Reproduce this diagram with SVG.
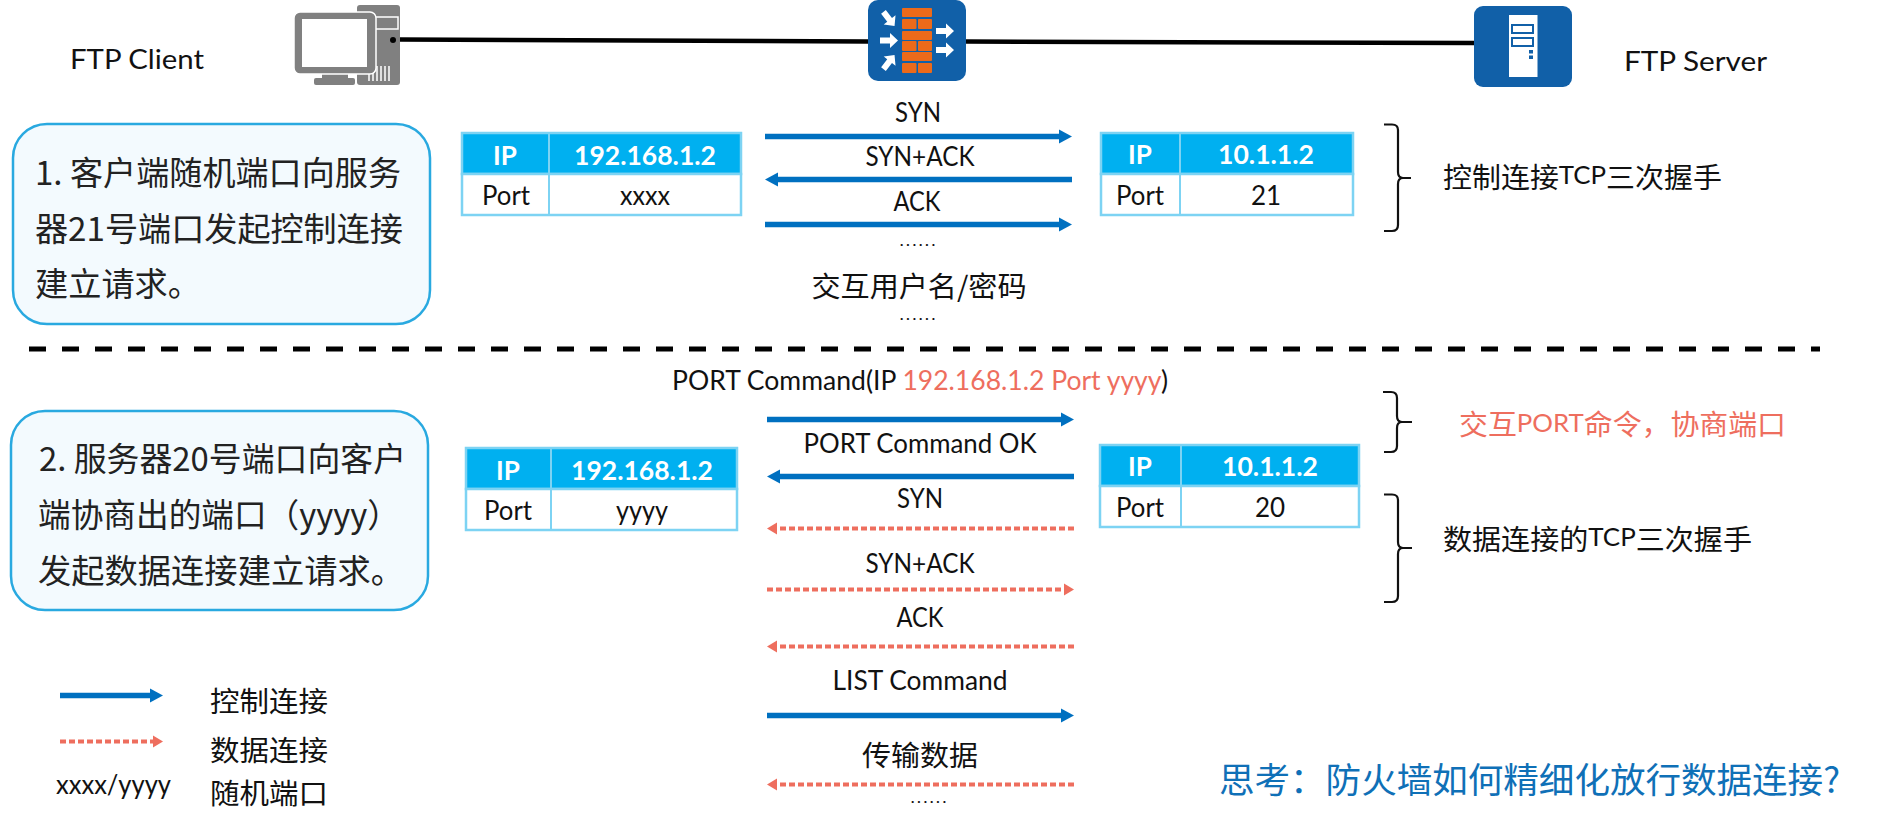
<svg xmlns="http://www.w3.org/2000/svg" width="1880" height="828" viewBox="0 0 1880 828">
<style>
text{font-family:"Lato","Noto Sans CJK SC",sans-serif;fill:#111;font-size:26px;}
.cj{font-family:"Noto Sans CJK SC","Lato",sans-serif;font-size:28px;}
.box{font-family:"Noto Sans CJK SC","Lato",sans-serif;font-size:33px;fill:#222;}
.c{text-anchor:middle;}
.red{fill:#EE6E5E;}
.h{fill:#fff;font-weight:bold;font-size:26px;}
.dots{font-size:14px;font-weight:bold;letter-spacing:3px;}
.tb{fill:#fff;stroke:#7DD3F3;stroke-width:2.5;}
.th{fill:#00B0F0;stroke:#7DD3F3;stroke-width:2.5;}
.ctl{stroke:#0070C0;stroke-width:5.5;fill:none;marker-end:url(#ah);}
.dat{stroke:#EE6E5E;stroke-width:4;stroke-dasharray:6 3;fill:none;marker-end:url(#ar);}
.brace{fill:none;stroke:#111;stroke-width:2.2;}
.note{fill:#F3FAFE;stroke:#29A9E0;stroke-width:2.5;}
.brick{fill:#EC6A1A;}
.wa{fill:#fff;}
</style>
<defs>
<marker id="ah" markerUnits="userSpaceOnUse" markerWidth="16" markerHeight="16" refX="0" refY="8" orient="auto"><path d="M0,1 L13,8 L0,15 z" fill="#0070C0"/></marker>
<marker id="ar" markerUnits="userSpaceOnUse" markerWidth="14" markerHeight="14" refX="0" refY="7" orient="auto"><path d="M0,1 L10,7 L0,13 z" fill="#EE6E5E"/></marker>
<path id="wa" d="M-9,-3 H1 V-7.5 L9,0 L1,7.5 V3 H-9 z"/>
</defs>
<rect width="1880" height="828" fill="#fff"/>

<g id="connectors">
<path d="M399,39.5 L868,41.5" stroke="#000" stroke-width="4.5" fill="none"/>
<path d="M966,41.5 L1474,43" stroke="#000" stroke-width="4.5" fill="none"/>
<line class="ctl" x1="765" y1="136.5" x2="1059" y2="136.5"/>
<line class="ctl" x1="1072" y1="179.5" x2="778" y2="179.5"/>
<line class="ctl" x1="765" y1="224.5" x2="1059" y2="224.5"/>
<line class="ctl" x1="767" y1="419.5" x2="1061" y2="419.5"/>
<line class="ctl" x1="1074" y1="476.5" x2="780" y2="476.5"/>
<line class="dat" x1="1074" y1="528.5" x2="777" y2="528.5"/>
<line class="dat" x1="767" y1="589.5" x2="1064" y2="589.5"/>
<line class="dat" x1="1074" y1="646.5" x2="777" y2="646.5"/>
<line class="ctl" x1="767" y1="715.5" x2="1061" y2="715.5"/>
<line class="dat" x1="1074" y1="784.5" x2="777" y2="784.5"/>
<line class="ctl" x1="60" y1="695.5" x2="150" y2="695.5"/>
<line class="dat" x1="60" y1="741.5" x2="153" y2="741.5"/>
</g>

<g id="divider"><line x1="29" y1="349" x2="1820" y2="349" stroke="#000" stroke-width="5" stroke-dasharray="17 16"/></g>

<g id="ftp-client-icon">
<rect x="357" y="5" width="43" height="80" rx="3" fill="#808080"/>
<rect x="375" y="17" width="23" height="12" fill="#808080" stroke="#fff" stroke-width="1.5"/>
<path d="M369,66 V81 M373,66 V81 M377,66 V81 M381,66 V81 M385,66 V81 M389,66 V81" stroke="#fff" stroke-width="1.5"/>
<circle cx="393" cy="40" r="3" fill="#000"/>
<rect x="374" y="37" width="2" height="6" fill="#000"/>
<rect x="314" y="78" width="41" height="7" rx="2" fill="#808080"/>
<rect x="322" y="73" width="26" height="5" fill="#808080"/>
<rect x="294" y="12" width="82" height="62" rx="6" fill="#808080" stroke="#fff" stroke-width="1.5"/>
<rect x="302" y="19" width="65" height="48" fill="#fff"/>
</g>
<g id="ftp-client-label"><text x="70" y="69" textLength="134" lengthAdjust="spacingAndGlyphs">FTP Client</text></g>

<g id="firewall-icon">
<rect x="868" y="0" width="98" height="81" rx="10" fill="#1160A8"/>
<rect class="brick" x="902" y="8" width="30" height="9" rx="1"/>
<rect class="brick" x="902" y="19" width="14.5" height="10" rx="1"/><rect class="brick" x="918" y="19" width="14" height="10" rx="1"/>
<rect class="brick" x="902" y="31" width="30" height="9" rx="1"/>
<rect class="brick" x="902" y="41" width="14.5" height="10" rx="1"/><rect class="brick" x="918" y="41" width="14" height="10" rx="1"/>
<rect class="brick" x="902" y="52" width="30" height="9" rx="1"/>
<rect class="brick" x="902" y="63" width="14.5" height="10" rx="1"/><rect class="brick" x="918" y="63" width="14" height="10" rx="1"/>
<use href="#wa" class="wa" transform="translate(889,19) rotate(52)"/>
<use href="#wa" class="wa" transform="translate(889,40.5)"/>
<use href="#wa" class="wa" transform="translate(889,62) rotate(-52)"/>
<use href="#wa" class="wa" transform="translate(945,31)"/>
<use href="#wa" class="wa" transform="translate(945,50)"/>
</g>

<g id="ftp-server-icon">
<rect x="1474" y="6" width="98" height="81" rx="9" fill="#1160A8"/>
<rect x="1509" y="15" width="28.5" height="62" fill="#fff"/>
<rect x="1512" y="25" width="21" height="8" fill="#fff" stroke="#1160A8" stroke-width="2"/>
<rect x="1512" y="38" width="21" height="8" fill="#fff" stroke="#1160A8" stroke-width="2"/>
<rect x="1529" y="50" width="4" height="3.5" fill="#1160A8"/>
<rect x="1529" y="55.5" width="4" height="3.5" fill="#1160A8"/>
</g>
<g id="ftp-server-label"><text x="1624" y="71" textLength="143" lengthAdjust="spacingAndGlyphs">FTP Server</text></g>

<g id="note-1">
<rect class="note" x="13" y="124" width="417" height="200" rx="34"/>
<text class="box" x="35" y="185" textLength="366" lengthAdjust="spacingAndGlyphs">1. 客户端随机端口向服务</text>
<text class="box" x="35" y="241" textLength="368" lengthAdjust="spacingAndGlyphs">器21号端口发起控制连接</text>
<text class="box" x="35" y="296" textLength="166" lengthAdjust="spacingAndGlyphs">建立请求。</text>
</g>

<g id="table-client-1">
<rect class="th" x="462" y="133" width="279" height="41"/><line x1="549" y1="133" x2="549" y2="174" stroke="#7DD3F3" stroke-width="2"/>
<rect class="tb" x="462" y="174" width="279" height="41"/><line x1="549" y1="174" x2="549" y2="215" stroke="#7DD3F3" stroke-width="2"/>
<text class="h c" x="505" y="165">IP</text>
<text class="h c" x="645" y="165" textLength="142" lengthAdjust="spacingAndGlyphs">192.168.1.2</text>
<text class="c" x="506" y="205" textLength="48" lengthAdjust="spacingAndGlyphs">Port</text>
<text class="c" x="645" y="205" textLength="50" lengthAdjust="spacingAndGlyphs">xxxx</text>
</g>
<g id="table-server-1">
<rect class="th" x="1101" y="133" width="252" height="41"/><line x1="1180" y1="133" x2="1180" y2="174" stroke="#7DD3F3" stroke-width="2"/>
<rect class="tb" x="1101" y="174" width="252" height="41"/><line x1="1180" y1="174" x2="1180" y2="215" stroke="#7DD3F3" stroke-width="2"/>
<text class="h c" x="1140" y="164">IP</text>
<text class="h c" x="1266" y="164" textLength="96" lengthAdjust="spacingAndGlyphs">10.1.1.2</text>
<text class="c" x="1140" y="205" textLength="48" lengthAdjust="spacingAndGlyphs">Port</text>
<text class="c" x="1266" y="205">21</text>
</g>
<g id="table-client-2">
<rect class="th" x="466" y="448" width="271" height="41"/><line x1="551" y1="448" x2="551" y2="489" stroke="#7DD3F3" stroke-width="2"/>
<rect class="tb" x="466" y="489" width="271" height="41"/><line x1="551" y1="489" x2="551" y2="530" stroke="#7DD3F3" stroke-width="2"/>
<text class="h c" x="508" y="480">IP</text>
<text class="h c" x="642" y="480" textLength="142" lengthAdjust="spacingAndGlyphs">192.168.1.2</text>
<text class="c" x="508" y="520" textLength="48" lengthAdjust="spacingAndGlyphs">Port</text>
<text class="c" x="642" y="520" textLength="52" lengthAdjust="spacingAndGlyphs">yyyy</text>
</g>
<g id="table-server-2">
<rect class="th" x="1100" y="445" width="259" height="41"/><line x1="1181" y1="445" x2="1181" y2="486" stroke="#7DD3F3" stroke-width="2"/>
<rect class="tb" x="1100" y="486" width="259" height="41"/><line x1="1181" y1="486" x2="1181" y2="527" stroke="#7DD3F3" stroke-width="2"/>
<text class="h c" x="1140" y="476">IP</text>
<text class="h c" x="1270" y="476" textLength="96" lengthAdjust="spacingAndGlyphs">10.1.1.2</text>
<text class="c" x="1140" y="517" textLength="48" lengthAdjust="spacingAndGlyphs">Port</text>
<text class="c" x="1270" y="517">20</text>
</g>

<g id="labels-control">
<text class="c" x="918" y="122" textLength="46" lengthAdjust="spacingAndGlyphs">SYN</text>
<text class="c" x="920" y="166" textLength="109" lengthAdjust="spacingAndGlyphs">SYN+ACK</text>
<text class="c" x="917" y="211" textLength="47" lengthAdjust="spacingAndGlyphs">ACK</text>
<text class="c dots" x="919" y="246">......</text>
<text class="cj c" x="919" y="297" textLength="215" lengthAdjust="spacingAndGlyphs">交互用户名/密码</text>
<text class="c dots" x="919" y="320">......</text>
</g>

<g id="note-2">
<rect class="note" x="11" y="411" width="417" height="199" rx="34"/>
<text class="box" x="39" y="471" textLength="367" lengthAdjust="spacingAndGlyphs">2. 服务器20号端口向客户</text>
<text class="box" x="38" y="527" textLength="362" lengthAdjust="spacingAndGlyphs">端协商出的端口（yyyy）</text>
<text class="box" x="38" y="583" textLength="366" lengthAdjust="spacingAndGlyphs">发起数据连接建立请求。</text>
</g>

<g id="labels-data">
<text x="672" y="390" textLength="496" lengthAdjust="spacingAndGlyphs">PORT Command(IP <tspan class="red">192.168.1.2 Port yyyy</tspan>)</text>
<text class="c" x="920" y="453" textLength="233" lengthAdjust="spacingAndGlyphs">PORT Command OK</text>
<text class="c" x="920" y="508" textLength="46" lengthAdjust="spacingAndGlyphs">SYN</text>
<text class="c" x="920" y="573" textLength="109" lengthAdjust="spacingAndGlyphs">SYN+ACK</text>
<text class="c" x="920" y="627" textLength="47" lengthAdjust="spacingAndGlyphs">ACK</text>
<text class="c" x="920" y="690" textLength="175" lengthAdjust="spacingAndGlyphs">LIST Command</text>
<text class="cj c" x="920" y="766" textLength="116" lengthAdjust="spacingAndGlyphs">传输数据</text>
<text class="c dots" x="930" y="803">......</text>
</g>

<g id="brace-1"><path class="brace" d="M1384,124.5 H1392 Q1398,124.5 1398,130 V172 Q1398,178 1403,178 H1411 M1403,178 Q1398,178 1398,184 V225 Q1398,231 1392,231 H1384"/></g>
<g id="brace-2"><path class="brace" d="M1383,392 H1391 Q1397,392 1397,398 V416 Q1397,422 1402,422 H1412 M1402,422 Q1397,422 1397,428 V446 Q1397,452 1391,452 H1384"/></g>
<g id="brace-3"><path class="brace" d="M1384,494.5 H1392 Q1398,494.5 1398,500 V542 Q1398,548 1403,548 H1412 M1403,548 Q1398,548 1398,554 V596 Q1398,602 1392,602 H1384"/></g>

<g id="note-labels">
<text class="cj" x="1443" y="188" textLength="279" lengthAdjust="spacingAndGlyphs">控制连接<tspan style="font-size:25px;font-family:Lato" dy="-4">TCP</tspan><tspan dy="4">三次握手</tspan></text>
<text class="cj red" x="1459" y="435" textLength="327" lengthAdjust="spacingAndGlyphs">交互<tspan style="font-size:25px;font-family:Lato" dy="-3">PORT</tspan><tspan dy="3">命令，协商端口</tspan></text>
<text class="cj" x="1443" y="550" textLength="309" lengthAdjust="spacingAndGlyphs">数据连接的<tspan style="font-size:25px;font-family:Lato" dy="-4">TCP</tspan><tspan dy="4">三次握手</tspan></text>
<text class="cj" x="1219" y="793" textLength="621" lengthAdjust="spacingAndGlyphs" style="font-size:35px;fill:#0F70B7">思考：防火墙如何精细化放行数据连接?</text>
</g>

<g id="legend">
<text class="cj" x="210" y="712" textLength="118" lengthAdjust="spacingAndGlyphs">控制连接</text>
<text class="cj" x="210" y="761" textLength="118" lengthAdjust="spacingAndGlyphs">数据连接</text>
<text x="56" y="794" textLength="115" lengthAdjust="spacingAndGlyphs">xxxx/yyyy</text>
<text class="cj" x="210" y="804" textLength="118" lengthAdjust="spacingAndGlyphs">随机端口</text>
</g>
</svg>
